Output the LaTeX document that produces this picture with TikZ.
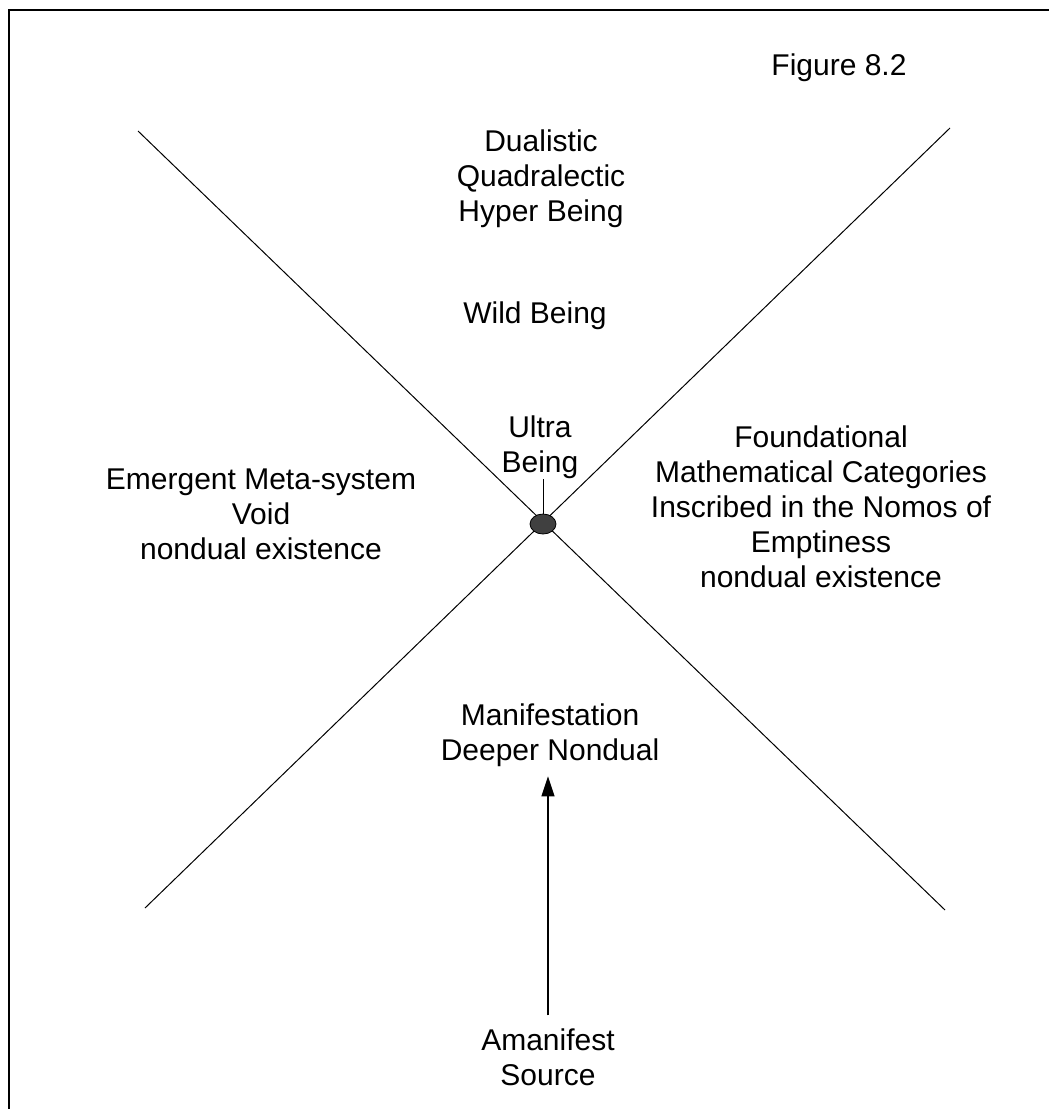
\documentclass[tikz,border=0pt]{standalone}
\usepackage{fontspec}
\setmainfont{Liberation Sans}
\usetikzlibrary{arrows.meta, shapes.geometric}

\begin{document}
\begin{tikzpicture}[x=1pt, y=-1pt,
  label/.style={inner sep=0pt, align=center, font=\fontsize{30}{35}\selectfont},
  axis/.style={line width=1pt, black},
  hub/.style={ellipse, minimum width=26pt, minimum height=20pt, inner sep=0pt,
              draw=black, line width=0.8pt, fill=black!75},
  flow/.style={line width=1.2pt, -{Triangle[length=20pt, width=13pt]}}
]
  \useasboundingbox (0,0) rectangle (1049,1109);
  \clip (0,0) rectangle (1049,1109);

  % page frame, running past the right and bottom edges
  \draw[line width=2pt] (9,1130) -- (9,10) -- (1070,10);

  % the two crossing axes
  \coordinate (tl) at (138,131);
  \coordinate (br) at (945,910);
  \coordinate (tr) at (950,128);
  \coordinate (bl) at (145,908);
  \draw[axis] (tl) -- (br);
  \draw[axis] (tr) -- (bl);

  % central point
  \node[hub] (hub) at (543,524) {};

  % labels
  \node[label, anchor=base] (fig) at (839,75) {Figure 8.2};
  \node[label, anchor=north] (dual) at (541,130) {Dualistic\\Quadralectic\\Hyper Being};
  \node[label, anchor=base] (wild) at (535,323) {Wild Being};
  \node[label, anchor=north] (ultra) at (540,416) {Ultra\\Being};
  \node[label, anchor=north] (emerg) at (261,469) {Emergent Meta-system\\Void\\nondual existence};
  \node[label, anchor=north] (found) at (821,425.5) {Foundational\\Mathematical Categories\\Inscribed in the Nomos of\\Emptiness\\nondual existence};
  \node[label, anchor=north] (manif) at (550,704) {Manifestation\\Deeper Nondual};
  \node[label, anchor=north] (src) at (548,1028.3) {Amanifest\\Source};

  % connectors
  \draw[line width=1pt] (hub.north) -- (hub.north |- ultra.south);
  \draw[flow, shorten <=13pt, shorten >=9pt] (src.north) -- (src.north |- manif.south);
\end{tikzpicture}
\end{document}
